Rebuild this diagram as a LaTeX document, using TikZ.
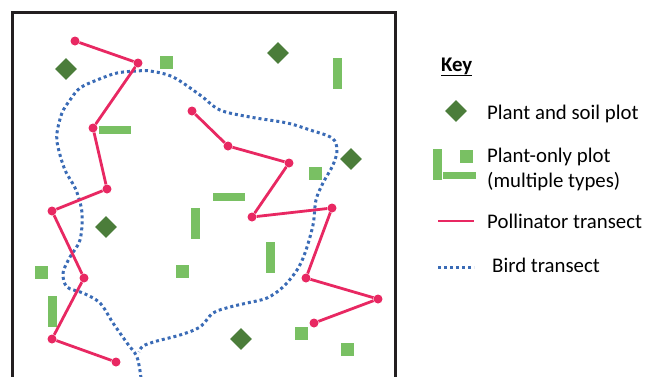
\documentclass[tikz,border=0pt]{standalone}
\usepackage{fontspec}
\setmainfont{Carlito}
\usetikzlibrary{shapes.geometric,positioning}
\definecolor{pollpink}{HTML}{E82862}
\definecolor{birdblue}{HTML}{3A6BB6}
\definecolor{soilgreen}{HTML}{4B7D3A}
\definecolor{plantgreen}{HTML}{79C063}
\definecolor{framegray}{HTML}{231F20}
\tikzset{
    visit/.style={circle,fill=pollpink,inner sep=0pt,minimum size=9pt},
    soilplot/.style={diamond,fill=soilgreen,inner sep=0pt,minimum size=22pt},
    plantsq/.style={rectangle,fill=plantgreen,inner sep=0pt,minimum size=13pt},
    plantbar/.style={rectangle,fill=plantgreen,inner sep=0pt,minimum width=32pt,minimum height=8pt},
    plantpole/.style={rectangle,fill=plantgreen,inner sep=0pt,minimum width=9pt,minimum height=31pt},
    pollen/.style={draw=pollpink,line width=2.8pt},
    birdline/.style={draw=birdblue,line width=3pt,dash pattern=on 3pt off 3pt},
    keytext/.style={anchor=base west,inner sep=0pt,font=\fontsize{20.8}{24}\selectfont}
}

\begin{document}
\begin{tikzpicture}[x=1pt,y=-1pt]

    \useasboundingbox (0,0) rectangle (646,376);

    % field boundary (open at the bottom)
    \draw[framegray,line width=3pt] (12,380) -- (12,12) -- (395,12) -- (395,380);

    % bird transect
    \draw[birdline] plot[smooth,tension=0.55] coordinates {
        (141,378) (137,357) (127,343) (113,323) (100,303) (83,293) (67,287)
        (63,273) (70,257) (80,240) (82,213) (76,190) (65,170) (58,147)
        (57,133) (62,113) (70,100) (80,88) (97,80) (117,73) (137,71)
        (150,71) (173,77) (200,95) (220,110) (250,117) (287,123) (310,130)
        (332,138) (337,150) (333,165) (323,183) (316,200) (313,225) (305,253)
        (297,270) (283,287) (267,298) (247,303) (230,307) (213,313) (200,327)
        (180,335) (157,341) (143,346) (139,352)};

    % plant and soil plots
    \node[soilplot] (soil 1) at (66,69)   {};
    \node[soilplot] (soil 2) at (278,53)  {};
    \node[soilplot] (soil 3) at (351,159) {};
    \node[soilplot] (soil 4) at (106,227) {};
    \node[soilplot] (soil 5) at (241,339) {};

    % plant-only plots
    \node[plantsq]   (plant 1)  at (166.5,62.5) {};
    \node[plantbar]  (plant 2)  at (115,130)    {};
    \node[plantpole] (plant 3)  at (337.5,73.5) {};
    \node[plantsq]   (plant 4)  at (315.5,173.5){};
    \node[plantbar]  (plant 5)  at (229,197)    {};
    \node[plantpole] (plant 6)  at (195,223.5)  {};
    \node[plantsq]   (plant 7)  at (41.5,272.5) {};
    \node[plantsq]   (plant 8)  at (182.5,271.5){};
    \node[plantpole] (plant 9)  at (52.5,311.5) {};
    \node[plantpole] (plant 10) at (270.5,257.5){};
    \node[plantsq]   (plant 11) at (301.5,333.5){};
    \node[plantsq]   (plant 12) at (347.5,349.5){};

    % pollinator transect, west
    \node[visit] (west 1) at (75,41)   {};
    \node[visit] (west 2) at (138,63)  {};
    \node[visit] (west 3) at (93,128)  {};
    \node[visit] (west 4) at (107,189) {};
    \node[visit] (west 5) at (52,211)  {};
    \node[visit] (west 6) at (84,278)  {};
    \node[visit] (west 7) at (52,339)  {};
    \node[visit] (west 8) at (116,362) {};
    \draw[pollen] (west 1) -- (west 2) -- (west 3) -- (west 4)
        -- (west 5) -- (west 6) -- (west 7) -- (west 8);

    % pollinator transect, east
    \node[visit] (east 1) at (192,111) {};
    \node[visit] (east 2) at (228,146) {};
    \node[visit] (east 3) at (289,163) {};
    \node[visit] (east 4) at (252,217) {};
    \node[visit] (east 5) at (332,208) {};
    \node[visit] (east 6) at (306,278) {};
    \node[visit] (east 7) at (378,299) {};
    \node[visit] (east 8) at (314,323) {};
    \draw[pollen] (east 1) -- (east 2) -- (east 3) -- (east 4)
        -- (east 5) -- (east 6) -- (east 7) -- (east 8);

    % key
    \node[keytext,font=\fontsize{20.8}{24}\selectfont\bfseries] (key) at (441,71) {\underline{Key}};

    \node[soilplot] (key soil) at (456,111) {};
    \node[keytext] (soil text) at (487,119) {Plant and soil plot};

    \node[plantpole] (key pole) at (437,164) {};
    \node[plantsq]   (key sq)   at (466.5,156.5) {};
    \node[rectangle,fill=plantgreen,inner sep=0pt,minimum width=33pt,minimum height=7pt] (key bar) at (459.5,175.5) {};
    \node[keytext] (plant text)  at (487,162) {Plant-only plot};
    \node[keytext] (plant text2) at (487,187) {(multiple types)};

    \coordinate (poll a) at (438,221);
    \coordinate (poll b) at (474,221);
    \draw[pollen] (poll a) -- (poll b);
    \node[keytext] (poll text) at (487,228) {Pollinator transect};

    \coordinate (bird a) at (438,267);
    \coordinate (bird b) at (474,267);
    \draw[birdline] (bird a) -- (bird b);
    \node[keytext] (bird text) at (492,272) {Bird transect};

\end{tikzpicture}
\end{document}
